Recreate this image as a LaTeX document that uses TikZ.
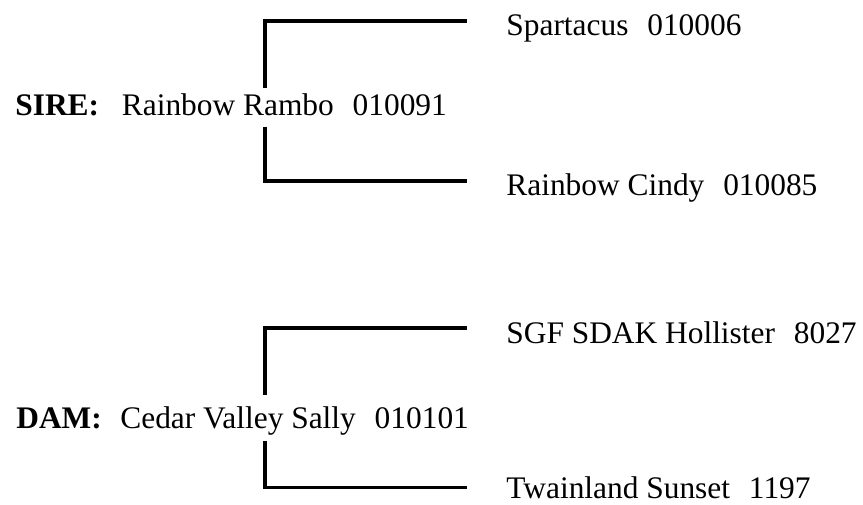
\documentclass[tikz,border=0pt]{standalone}
\usepackage{fontspec}
\setmainfont{Liberation Serif}
\newcommand{\regsep}{\hspace{0.6em}}
\tikzset{
  pedline/.style={line width=1.75pt},
  animal/.style={anchor=base west,inner sep=0pt,font=\fontsize{15.7}{18}\selectfont},
  sexlabel/.style={animal,font=\fontsize{15.7}{18}\selectfont\bfseries}
}
\begin{document}
\begin{tikzpicture}[x=0.5pt,y=-0.5pt]
  \useasboundingbox (0,0) rectangle (863,504);

  % sire and its parents
  \node[sexlabel] (sirelbl) at (15,115) {SIRE:};
  \node[animal] (sire) at (121.5,115) {Rainbow Rambo\regsep 010091};
  \node[animal] (siresire) at (506,35) {Spartacus\regsep 010006};
  \node[animal] (siredam) at (506,195) {Rainbow Cindy\regsep 010085};
  \coordinate (sireup) at (265,88);
  \coordinate (siredown) at (265,126.5);
  \coordinate (siresireend) at (467,21);
  \coordinate (siredamend) at (467,181);
  \draw[pedline] (sireup) |- (siresireend);
  \draw[pedline] (siredown) |- (siredamend);

  % dam and its parents
  \node[sexlabel] (damlbl) at (16,428) {DAM:};
  \node[animal] (dam) at (120,428) {Cedar Valley Sally\regsep 010101};
  \node[animal] (damsire) at (506,343) {SGF SDAK Hollister\regsep 8027};
  \node[animal] (damdam) at (506,498) {Twainland Sunset\regsep 1197};
  \coordinate (damup) at (265,395);
  \coordinate (damdown) at (265,441);
  \coordinate (damsireend) at (467,328);
  \coordinate (damdamend) at (467,487.5);
  \draw[pedline] (damup) |- (damsireend);
  \draw[pedline] (damdown) |- (damdamend);
\end{tikzpicture}
\end{document}
